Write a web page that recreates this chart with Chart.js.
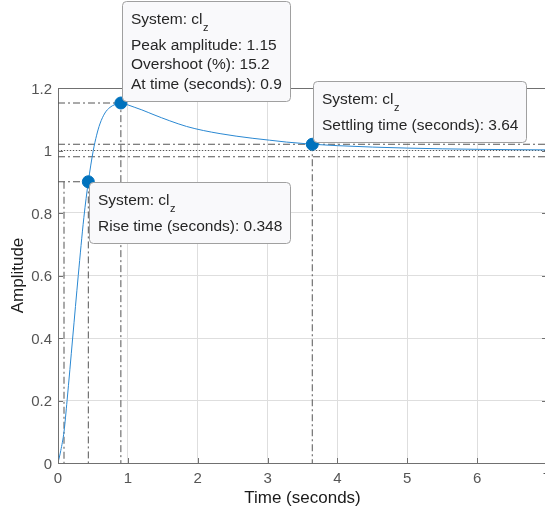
<!DOCTYPE html>
<html>
<head>
<meta charset="utf-8">
<script src="https://cdn.jsdelivr.net/npm/chart.js@4.4.0/dist/chart.umd.min.js"></script>
<style>
    html, body { margin: 0; background: #fff; overflow: hidden; }
    canvas { display: block; }
</style>
</head>
<body>
<!-- the axes box runs a little past the right edge of the window -->
<canvas id="stepCanvas" width="554" height="515"></canvas>
<script>
// step response of cl_z
const timeValues = [0, 0.04, 0.086, 0.13, 0.21, 0.29, 0.37, 0.434, 0.505, 0.553, 0.6, 0.672, 0.744, 0.815, 0.9,
    1.0, 1.1, 1.2, 1.3, 1.36, 1.6, 1.84, 2.08, 2.32, 2.55, 2.79, 3.03, 3.27, 3.64,
    4.0, 4.5, 5.0, 5.5, 6.0, 6.5, 7.0];
const amplitudeValues = [0, 0.04, 0.1, 0.2, 0.4, 0.6, 0.785, 0.9, 1.0, 1.049, 1.085, 1.12, 1.138, 1.147, 1.152,
    1.146, 1.138, 1.130, 1.121, 1.1155, 1.095, 1.077, 1.064, 1.054, 1.046, 1.039, 1.033, 1.027, 1.02,
    1.0155, 1.011, 1.0077, 1.0054, 1.0038, 1.0027, 1.002];

const xTicks = [0, 1, 2, 3, 4, 5, 6, 7];
const yTicks = [0, 0.2, 0.4, 0.6, 0.8, 1, 1.2];

// response characteristics
const finalValue = 1;
const peakTime = 0.9;
const peakAmplitude = 1.152;
const riseStart = 0.086;
const riseEnd = 0.434;
const riseLevel = 0.9;
const settlingTime = 3.64;
const settlingBand = [0.98, 1.02];

const fontFamily = '"Liberation Sans", Arial, Helvetica, sans-serif';
const lineBlue = '#0072BD';

function xy(xs, ys) {
    return xs.map((x, i) => ({ x: x, y: ys[i] }));
}

function refLine(points, dash) {
    return {
        data: points,
        showLine: true,
        pointRadius: 0,
        borderColor: '#555',
        borderWidth: 1,
        borderDash: dash,
        fill: false
    };
}

const dashDot = [7, 3, 2, 3];

const datasets = [
    {
        // characteristic markers
        data: [
            { x: riseEnd, y: riseLevel },
            { x: peakTime, y: peakAmplitude },
            { x: settlingTime, y: settlingBand[1] }
        ],
        showLine: false,
        pointRadius: 6,
        pointBackgroundColor: lineBlue,
        pointBorderColor: lineBlue
    },
    {
        data: xy(timeValues, amplitudeValues),
        showLine: true,
        pointRadius: 0,
        borderColor: '#2a88d2',
        borderWidth: 1,
        cubicInterpolationMode: 'monotone',
        fill: false
    },
    refLine([{ x: 0, y: peakAmplitude }, { x: peakTime, y: peakAmplitude }, { x: peakTime, y: 0 }], dashDot),
    refLine([{ x: 0, y: riseLevel }, { x: riseEnd, y: riseLevel }, { x: riseEnd, y: 0 }], dashDot),
    refLine([{ x: riseStart, y: riseLevel }, { x: riseStart, y: 0 }], dashDot),
    refLine([{ x: settlingTime, y: settlingBand[1] }, { x: settlingTime, y: 0 }], dashDot),
    refLine([{ x: 0, y: settlingBand[0] }, { x: 7, y: settlingBand[0] }], dashDot),
    refLine([{ x: 0, y: settlingBand[1] }, { x: 7, y: settlingBand[1] }], dashDot),
    refLine([{ x: 0, y: finalValue }, { x: 7, y: finalValue }], [1, 2])
];

// data tips: label lines and where the box sits relative to its marker
const dataTips = [
    {
        x: peakTime, y: peakAmplitude, place: 'above',
        lines: ['Peak amplitude: ' + peakAmplitude.toFixed(2),
                'Overshoot (%): ' + ((peakAmplitude - finalValue) / finalValue * 100).toFixed(1),
                'At time (seconds): ' + peakTime]
    },
    {
        x: settlingTime, y: settlingBand[1], place: 'above',
        lines: ['Settling time (seconds): ' + settlingTime]
    },
    {
        x: riseEnd, y: riseLevel, place: 'below',
        lines: ['Rise time (seconds): ' + (riseEnd - riseStart).toFixed(3)]
    }
];

function drawTip(ctx, px, py, tip) {
    ctx.save();
    ctx.font = '15.5px ' + fontFamily;
    let textW = ctx.measureText('System: cl').width + 8;
    tip.lines.forEach(l => { textW = Math.max(textW, ctx.measureText(l).width); });
    const w = Math.round(textW + 17);
    const h = Math.round(61 + 19.7 * (tip.lines.length - 1));
    let left, top;
    if (tip.place === 'above') {
        left = Math.round(px) + 1.5;
        top = Math.round(py) - 1.5 - h;
    } else {
        left = Math.round(px) + 1.5;
        top = Math.round(py) + 0.5;
    }

    ctx.beginPath();
    ctx.roundRect(left, top, w, h, 4);
    ctx.fillStyle = '#f9f9fb';
    ctx.fill();
    ctx.strokeStyle = '#a0a0a0';
    ctx.lineWidth = 1;
    ctx.stroke();

    ctx.fillStyle = '#262626';
    ctx.textBaseline = 'middle';
    ctx.textAlign = 'left';
    const tx = left + 8.5;
    ctx.fillText('System: cl', tx, top + 18);
    const sw = ctx.measureText('System: cl').width;
    ctx.font = '11px ' + fontFamily;
    ctx.fillText('z', tx + sw + 0.5, top + 26);
    ctx.font = '15.5px ' + fontFamily;
    tip.lines.forEach((l, i) => {
        ctx.fillText(l, tx, top + 44 + 19.7 * i);
    });
    ctx.restore();
}

const framePlugin = {
    id: 'frame',
    afterDatasetsDraw(chart) {
        const ctx = chart.ctx;
        const area = chart.chartArea;
        const xs = chart.scales.x;
        const ys = chart.scales.y;
        ctx.save();
        ctx.strokeStyle = '#707070';
        ctx.lineWidth = 1;
        ctx.beginPath();
        // top and right edges of the box
        ctx.moveTo(area.left, Math.round(area.top) + 0.5);
        ctx.lineTo(area.right, Math.round(area.top) + 0.5);
        ctx.moveTo(Math.round(area.right) - 0.5, area.top);
        ctx.lineTo(Math.round(area.right) - 0.5, area.bottom);
        // inward tick marks
        xTicks.forEach(v => {
            const p = Math.round(xs.getPixelForValue(v)) + 0.5;
            ctx.moveTo(p, area.bottom);
            ctx.lineTo(p, area.bottom - 5);
            ctx.moveTo(p, area.top);
            ctx.lineTo(p, area.top + 5);
        });
        yTicks.forEach(v => {
            const p = Math.round(ys.getPixelForValue(v)) + 0.5;
            ctx.moveTo(area.left, p);
            ctx.lineTo(area.left + 5, p);
            ctx.moveTo(area.right, p);
            ctx.lineTo(area.right - 5, p);
        });
        ctx.stroke();
        ctx.restore();

        dataTips.forEach(tip => {
            drawTip(ctx, xs.getPixelForValue(tip.x), ys.getPixelForValue(tip.y), tip);
        });
    }
};

const ctx = document.getElementById('stepCanvas').getContext('2d');

new Chart(ctx, {
    type: 'scatter',
    data: { datasets: datasets },
    options: {
        responsive: false,
        animation: false,
        devicePixelRatio: 1,
        events: [],
        layout: { padding: { top: 88, left: 0, right: 0, bottom: 0 } },
        plugins: {
            legend: { display: false },
            tooltip: { enabled: false }
        },
        scales: {
            x: {
                type: 'linear',
                min: 0,
                max: 7,
                afterBuildTicks: scale => { scale.ticks = xTicks.map(v => ({ value: v })); },
                afterFit: scale => { scale.height = 52; scale.paddingLeft = 0; scale.paddingRight = 0; },
                grid: { color: '#dedede', drawTicks: false },
                border: { color: '#707070' },
                ticks: {
                    padding: 7,
                    color: '#555',
                    maxRotation: 0,
                    autoSkip: false,
                    font: { family: fontFamily, size: 15 }
                },
                title: {
                    display: true,
                    text: 'Time (seconds)',
                    color: '#1a1a1a',
                    font: { family: fontFamily, size: 17 },
                    padding: { top: 0, bottom: 6 }
                }
            },
            y: {
                type: 'linear',
                min: 0,
                max: 1.2,
                afterBuildTicks: scale => { scale.ticks = yTicks.map(v => ({ value: v })); },
                afterFit: scale => { scale.width = 58; scale.paddingTop = 0; scale.paddingBottom = 0; },
                grid: { color: '#dedede', drawTicks: false },
                border: { color: '#707070' },
                ticks: {
                    padding: 6,
                    labelOffset: 1.5,
                    color: '#555',
                    font: { family: fontFamily, size: 15 },
                    callback: v => String(Math.round(v * 10) / 10)
                },
                title: {
                    display: true,
                    text: 'Amplitude',
                    color: '#1a1a1a',
                    font: { family: fontFamily, size: 17 },
                    padding: { top: 8, bottom: 0 }
                }
            }
        }
    },
    plugins: [framePlugin]
});
</script>
</body>
</html>
